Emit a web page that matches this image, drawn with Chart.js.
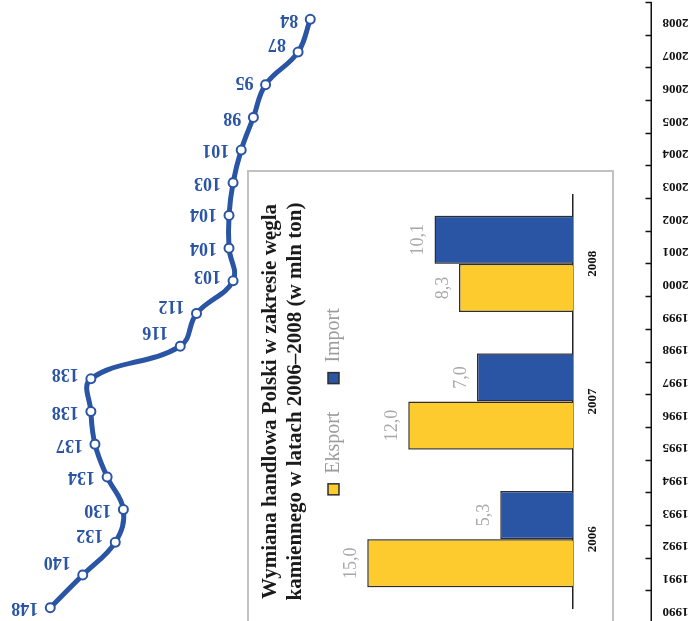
<!DOCTYPE html>
<html lang="pl">
<head>
<meta charset="utf-8">
<title>Wydobycie i handel węglem kamiennym</title>
<script src="https://cdn.jsdelivr.net/npm/chart.js@4/dist/chart.umd.min.js"></script>
<style>
  html, body { margin: 0; padding: 0; background: #fff; }
  body { width: 693px; height: 621px; overflow: hidden; position: relative; }
  #trendBox {
    position: absolute; left: 0; top: 0; width: 693px; height: 630px;
    transform: rotate(180deg);
  }
  #tradeBox {
    position: absolute; left: 247px; top: 640px; width: 470px; height: 367px;
    box-sizing: border-box; border: 2px solid #c2c2c2; background: #fff;
    transform-origin: 0 0; transform: rotate(-90deg);
  }
  #tradeBox canvas { position: absolute; left: -2px; top: -2px; }
</style>
</head>
<body>
<div id="trendBox"><canvas id="trend" width="693" height="630"></canvas></div>
<div id="tradeBox"><canvas id="trade" width="470" height="367"></canvas></div>
<script>
const years = ["1990", "1991", "1992", "1993", "1994", "1995", "1996", "1997", "1998", "1999",
               "2000", "2001", "2002", "2003", "2004", "2005", "2006", "2007", "2008"];
const output = [148, 140, 132, 130, 134, 137, 138, 138, 116, 112,
                103, 104, 104, 103, 101, 98, 95, 87, 84];

const tradeYears = ["2006", "2007", "2008"];
const exportVals = [15.0, 12.0, 8.3];
const importVals = [5.3, 7.0, 10.1];

const serif = '"Liberation Serif", "Times New Roman", serif';
const blue = "#2a54a4";
const yellow = "#fecb2f";

// labels sit beside the points; a few are lifted clear of the line
const labelLift = { 1991: 13, 1992: 8, 1997: 5, 1998: 15, 1999: 8, 2000: 5, 2002: 2, 2006: 3, 2007: 8 };

const pointLabels = {
  id: "pointLabels",
  afterDatasetsDraw(chart) {
    const ctx = chart.ctx;
    const pts = chart.getDatasetMeta(0).data;
    ctx.save();
    ctx.font = "bold 18px " + serif;
    ctx.fillStyle = blue;
    ctx.textAlign = "left";
    ctx.textBaseline = "middle";
    pts.forEach((p, i) => {
      ctx.fillText(String(output[i]), p.x + 12, p.y + (labelLift[years[i]] || 0));
    });
    ctx.restore();
  }
};

// short tick marks between the years, pointing into the plot
const innerTicks = {
  id: "innerTicks",
  afterDraw(chart) {
    const ctx = chart.ctx;
    const s = chart.scales.y;
    const step = (s.bottom - s.top) / years.length;
    ctx.save();
    ctx.strokeStyle = "#111";
    ctx.lineWidth = 1.5;
    ctx.beginPath();
    for (let i = 0; i <= years.length; i++) {
      const y = Math.round(s.top + i * step) + 0.5;
      ctx.moveTo(s.right, y);
      ctx.lineTo(s.right + 6, y);
    }
    ctx.stroke();
    ctx.restore();
  }
};

new Chart(document.getElementById("trend"), {
  type: "line",
  data: {
    labels: years,
    datasets: [{
      data: output,
      borderColor: blue,
      borderWidth: 5,
      tension: 0.4,
      pointRadius: 4.5,
      pointBorderWidth: 2,
      pointBackgroundColor: "#fff",
      pointBorderColor: blue
    }]
  },
  options: {
    indexAxis: "y",
    responsive: false,
    animation: false,
    layout: { autoPadding: false, padding: { top: 6, bottom: 3, left: 0, right: 1.5 } },
    scales: {
      x: { type: "linear", display: false, min: 0, max: 160 },
      y: {
        type: "category",
        offset: true,
        grid: { display: false, drawTicks: false },
        border: { display: true, color: "#111", width: 1.5 },
        ticks: {
          autoSkip: false,
          padding: 11,
          labelOffset: -3.5,
          color: "#111",
          font: { family: serif, size: 13, weight: "bold" }
        },
        afterFit(scale) {
          scale.width = 41.5;
          scale.paddingTop = 0;
          scale.paddingBottom = 0;
        }
      }
    },
    plugins: { legend: { display: false }, tooltip: { enabled: false } }
  },
  plugins: [pointLabels, innerTicks]
});

const barLabels = {
  id: "barLabels",
  afterDatasetsDraw(chart) {
    const ctx = chart.ctx;
    ctx.save();
    ctx.font = "18px " + serif;
    ctx.fillStyle = "#a9a9a9";
    ctx.textAlign = "center";
    ctx.textBaseline = "alphabetic";
    chart.data.datasets.forEach((ds, d) => {
      chart.getDatasetMeta(d).data.forEach((bar, i) => {
        ctx.fillText(ds.data[i].toFixed(1).replace(".", ","), bar.x, bar.y - 11);
      });
    });
    ctx.restore();
  }
};

new Chart(document.getElementById("trade"), {
  type: "bar",
  data: {
    labels: tradeYears,
    datasets: [
      { label: "Eksport", data: exportVals, backgroundColor: yellow, borderColor: "#2e2e2e", borderWidth: 1.5 },
      { label: "Import", data: importVals, backgroundColor: blue, borderColor: "#2e2e2e", borderWidth: 1.5 }
    ]
  },
  options: {
    responsive: false,
    animation: false,
    categoryPercentage: 0.7,
    barPercentage: 1.0,
    layout: { padding: { left: 32, right: 25, top: 0, bottom: 0 } },
    scales: {
      x: {
        grid: { display: false, drawTicks: false },
        border: { display: true, color: "#222", width: 1.5 },
        ticks: { padding: 12, color: "#111", font: { family: serif, size: 13, weight: "bold" } },
        afterFit(scale) { scale.height = 41; }
      },
      y: { display: false, min: 0, max: 16 }
    },
    plugins: {
      title: {
        display: true,
        text: ["Wymiana handlowa Polski w zakresie węgla", "kamiennego w latach 2006–2008 (w mln ton)"],
        color: "#1b1b1b",
        font: { family: serif, size: 21, weight: "bold", lineHeight: 1.2 },
        padding: { top: 11, bottom: -13 }
      },
      legend: {
        labels: {
          boxWidth: 11,
          boxHeight: 11,
          padding: 28,
          color: "#9c9c9c",
          font: { family: serif, size: 20 }
        }
      },
      tooltip: { enabled: false }
    }
  },
  plugins: [barLabels]
});
</script>
</body>
</html>
